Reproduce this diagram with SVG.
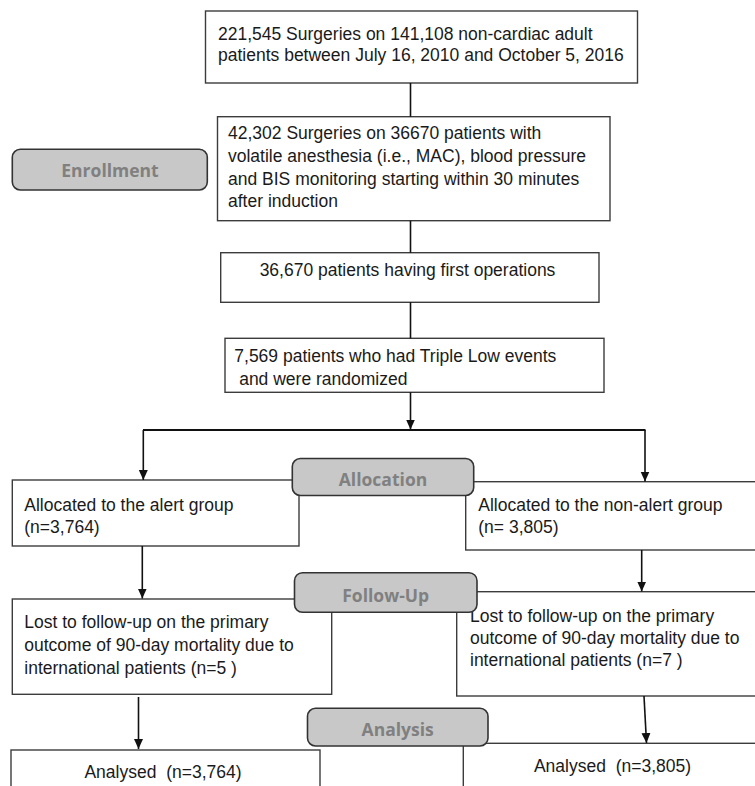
<svg xmlns="http://www.w3.org/2000/svg" width="755" height="786" viewBox="0 0 755 786">
<style>
.box{fill:#fff;stroke:#3c3c3c;stroke-width:1.4}
.t{font-family:"Liberation Sans",Arial,sans-serif;font-size:17.5px;fill:#1a1a1a}
.pill{fill:#c8c8c8;stroke:#333;stroke-width:1.6}
.pt{font-family:"Open Sans","Liberation Sans",sans-serif;font-weight:bold;font-size:17.5px;fill:#808080;text-anchor:middle}
.ln{fill:none;stroke:#111;stroke-width:1.6}
</style>
<defs>
<marker id="ah" markerUnits="userSpaceOnUse" markerWidth="10" markerHeight="10" viewBox="0 0 10 9" refX="10" refY="4.5" orient="auto">
<path d="M0,0 L10,4.5 L0,9 z" fill="#111"/>
</marker>
</defs>
<rect width="755" height="786" fill="#fff"/>

<g id="n1">
<rect class="box" x="205.5" y="11" width="432" height="72"/>
<text class="t" x="218" y="39.5">221,545 Surgeries on 141,108 non-cardiac adult</text>
<text class="t" x="218" y="61">patients between July 16, 2010 and October 5, 2016</text>
</g>
<g id="n2">
<rect class="box" x="217.5" y="116.7" width="392.5" height="104"/>
<text class="t" x="228" y="139">42,302 Surgeries on 36670 patients with</text>
<text class="t" x="228" y="161.8">volatile anesthesia (i.e., MAC), blood pressure</text>
<text class="t" x="228" y="184.5">and BIS monitoring starting within 30 minutes</text>
<text class="t" x="228" y="207.2">after induction</text>
</g>
<g id="n3">
<rect class="box" x="220.7" y="252.7" width="378.3" height="49.6"/>
<text class="t" x="407.5" y="276" text-anchor="middle">36,670 patients having first operations</text>
</g>
<g id="n4">
<rect class="box" x="225" y="338.3" width="379" height="54"/>
<text class="t" x="234.3" y="362.3">7,569 patients who had Triple Low events</text>
<text class="t" x="234.3" y="385" xml:space="preserve"> and were randomized</text>
</g>
<g id="n5">
<rect class="box" x="12.3" y="480" width="286.7" height="66"/>
<text class="t" x="24.3" y="510.7">Allocated to the alert group</text>
<text class="t" x="24.3" y="533.3">(n=3,764)</text>
</g>
<g id="n6">
<rect class="box" x="465.7" y="481.7" width="300" height="68.3"/>
<text class="t" x="478.3" y="510.7">Allocated to the non-alert group</text>
<text class="t" x="478.3" y="532.7">(n= 3,805)</text>
</g>
<g id="n7">
<rect class="box" x="12.3" y="599" width="319.4" height="95.3"/>
<text class="t" x="24.3" y="627.7">Lost to follow-up on the primary</text>
<text class="t" x="24.3" y="651">outcome of 90-day mortality due to</text>
<text class="t" x="24.3" y="674.3">international patients (n=5 )</text>
</g>
<g id="n8">
<rect class="box" x="456.7" y="591.7" width="310" height="104.3"/>
<text class="t" x="470" y="621.7">Lost to follow-up on the primary</text>
<text class="t" x="470" y="643.8">outcome of 90-day mortality due to</text>
<text class="t" x="470" y="666">international patients (n=7 )</text>
</g>
<g id="n9">
<rect class="box" x="11" y="750" width="309" height="60"/>
<text class="t" x="163" y="778.3" text-anchor="middle" xml:space="preserve">Analysed  (n=3,764)</text>
</g>
<g id="n10">
<rect class="box" x="463.3" y="743.3" width="310" height="60"/>
<text class="t" x="612.5" y="771.7" text-anchor="middle" xml:space="preserve">Analysed  (n=3,805)</text>
</g>

<g id="connectors">
<line class="ln" x1="410.5" y1="83" x2="410.5" y2="116.7"/>
<line class="ln" x1="410.5" y1="220.7" x2="410.5" y2="252.7"/>
<line class="ln" x1="410.5" y1="302.3" x2="410.5" y2="338.3"/>
<line class="ln" x1="410.5" y1="392.3" x2="410.5" y2="429.5" marker-end="url(#ah)"/>
<line class="ln" x1="143" y1="430" x2="645.5" y2="430" style="stroke-width:2"/>
<line class="ln" x1="143.3" y1="430" x2="143.3" y2="480" marker-end="url(#ah)"/>
<line class="ln" x1="645" y1="430" x2="645" y2="481.5" marker-end="url(#ah)"/>
<line class="ln" x1="142.3" y1="546" x2="142.3" y2="598.5" marker-end="url(#ah)"/>
<line class="ln" x1="641.7" y1="550" x2="641.7" y2="591.5" marker-end="url(#ah)"/>
<line class="ln" x1="138.5" y1="697" x2="138.5" y2="749" marker-end="url(#ah)"/>
<line class="ln" x1="644" y1="696" x2="646.5" y2="743" marker-end="url(#ah)"/>
</g>

<g id="enrollment">
<rect class="pill" x="12.3" y="149.3" width="195" height="40.7" rx="8"/>
<text class="pt" x="110" y="176.5">Enrollment</text>
</g>
<g id="allocation">
<rect class="pill" x="292.3" y="458.5" width="181.4" height="37" rx="8"/>
<text class="pt" x="383" y="486">Allocation</text>
</g>
<g id="followup">
<rect class="pill" x="294.5" y="572.7" width="182.5" height="39.6" rx="8"/>
<text class="pt" x="385.7" y="601.5">Follow-Up</text>
</g>
<g id="analysis">
<rect class="pill" x="307.5" y="708.3" width="180.5" height="37.7" rx="8"/>
<text class="pt" x="397.7" y="735.5">Analysis</text>
</g>
</svg>
